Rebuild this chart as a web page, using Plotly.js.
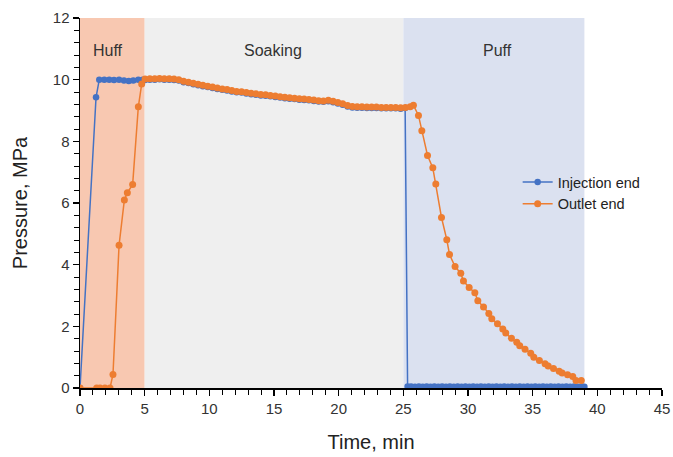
<!DOCTYPE html>
<html><head><meta charset="utf-8">
<script src="https://cdn.plot.ly/plotly-3.0.1.min.js"></script>
<style>html,body{margin:0;padding:0;background:#fff}#chart{width:673px;height:457px}</style>
</head><body><div id="chart"></div>
<script>
// Outlet end
const outletTime = [0, 1.29, 1.55, 1.93, 2.32, 2.55, 3.02, 3.43, 3.66, 4.07, 4.51, 4.77,
  5.03, 5.4, 5.78, 6.15, 6.52, 6.9, 7.27, 7.64, 8.01, 8.39, 8.76, 9.13, 9.5, 9.88, 10.25, 10.62,
  11.0, 11.37, 11.74, 12.11, 12.49, 12.86, 13.23, 13.6, 13.98, 14.35, 14.72, 15.1, 15.47, 15.84,
  16.21, 16.59, 16.96, 17.33, 17.7, 18.08, 18.45, 18.82, 19.2, 19.57, 19.94, 20.31, 20.69, 21.06,
  21.43, 21.8, 22.18, 22.55, 22.92, 23.3, 23.67, 24.04, 24.41, 24.79, 25.16, 25.53, 25.78,
  26.17, 26.43, 26.87, 27.28, 27.51, 27.95, 28.36, 28.57, 29.0, 29.44, 29.65, 30.09, 30.53,
  30.76, 31.2, 31.61, 31.84, 32.28, 32.69, 32.92, 33.36, 33.77, 34.0, 34.41, 34.85, 35.09,
  35.52, 35.96, 36.2, 36.61, 37.05, 37.28, 37.7, 38.1, 38.35, 38.76];
const outletPressure = [0, 0, 0, 0, 0, 0.44, 4.63, 6.1, 6.33, 6.6, 9.12, 9.86,
  10.02, 10.03, 10.03, 10.04, 10.03, 10.03, 10.02, 10.0, 9.95, 9.92, 9.88, 9.85, 9.82, 9.79, 9.76, 9.73,
  9.7, 9.68, 9.65, 9.62, 9.61, 9.58, 9.56, 9.54, 9.52, 9.51, 9.49, 9.47, 9.45, 9.43,
  9.41, 9.4, 9.38, 9.37, 9.36, 9.34, 9.32, 9.31, 9.33, 9.3, 9.26, 9.22, 9.16, 9.13,
  9.12, 9.12, 9.11, 9.11, 9.11, 9.1, 9.1, 9.1, 9.1, 9.09, 9.1, 9.12, 9.17,
  8.84, 8.34, 7.54, 7.14, 6.62, 5.53, 4.81, 4.33, 3.94, 3.72, 3.47, 3.26, 3.09,
  2.83, 2.63, 2.42, 2.25, 2.08, 1.91, 1.78, 1.61, 1.48, 1.37, 1.26, 1.13, 1.0,
  0.89, 0.79, 0.71, 0.63, 0.54, 0.49, 0.43, 0.37, 0.24, 0.24];

// Injection end
const injectionTime = [0, 1.24, 1.49, 1.88, 2.26, 2.63, 3.02, 3.4, 3.77, 4.12, 4.51, 4.85,
  5.03, 5.4, 5.78, 6.15, 6.52, 6.9, 7.27, 7.64, 8.01, 8.39, 8.76, 9.13, 9.5, 9.88, 10.25, 10.62,
  11.0, 11.37, 11.74, 12.11, 12.49, 12.86, 13.23, 13.6, 13.98, 14.35, 14.72, 15.1, 15.47, 15.84,
  16.21, 16.59, 16.96, 17.33, 17.7, 18.08, 18.45, 18.82, 19.2, 19.57, 19.94, 20.31, 20.69, 21.06,
  21.43, 21.8, 22.18, 22.55, 22.92, 23.3, 23.67, 24.04, 24.41, 24.79, 25.14, 25.33,
  25.6, 25.9, 26.2, 26.5, 26.8, 27.1, 27.4, 27.7, 28.0, 28.3, 28.6, 28.9, 29.2, 29.5, 29.8,
  30.1, 30.4, 30.7, 31.0, 31.3, 31.6, 31.9, 32.2, 32.5, 32.8, 33.1, 33.4, 33.7, 34.0, 34.3,
  34.6, 34.9, 35.2, 35.5, 35.8, 36.1, 36.4, 36.7, 37.0, 37.3, 37.6, 37.9, 38.2, 38.5, 38.8, 39.0];
const injectionPressure = [0, 9.43, 10.0, 10.0, 10.0, 9.99, 10.0, 9.97, 9.96, 9.97, 10.0, 10.0,
  9.99, 10.0, 10.0, 10.01, 10.0, 10.0, 9.99, 9.97, 9.92, 9.89, 9.85, 9.82, 9.79, 9.76, 9.73, 9.7,
  9.67, 9.65, 9.62, 9.59, 9.58, 9.55, 9.53, 9.51, 9.49, 9.48, 9.46, 9.44, 9.42, 9.4,
  9.38, 9.37, 9.35, 9.34, 9.33, 9.31, 9.29, 9.28, 9.3, 9.27, 9.23, 9.19, 9.13, 9.1,
  9.09, 9.09, 9.08, 9.08, 9.08, 9.07, 9.07, 9.07, 9.07, 9.06, 9.08, 0.05,
  0.05, 0.04, 0.05, 0.04, 0.05, 0.04, 0.05, 0.04, 0.05, 0.04, 0.05, 0.04, 0.05, 0.04, 0.05,
  0.04, 0.05, 0.04, 0.05, 0.04, 0.05, 0.04, 0.05, 0.04, 0.05, 0.04, 0.05, 0.04, 0.05, 0.04,
  0.05, 0.04, 0.05, 0.04, 0.05, 0.04, 0.05, 0.04, 0.05, 0.04, 0.05, 0.04, 0.05, 0.04, 0.05, 0.04];

// Stages
const stageNames = ['Huff', 'Soaking', 'Puff'];
const stageStart = [0, 5, 25];
const stageEnd = [5, 25, 39];
const stageLabelX = [2.2, 14.9, 32.3];
const stageLabelY = [10.95, 10.95, 10.95];
const stageColors = ['#f8c8b1', '#efefef', '#dbe1f0'];

const xTickVals = [0, 5, 10, 15, 20, 25, 30, 35, 40, 45];
const yTickVals = [0, 2, 4, 6, 8, 10, 12];

const traces = [
  {x: injectionTime, y: injectionPressure, name: 'Injection end', type: 'scatter', mode: 'lines+markers',
   line: {color: '#4472c4', width: 1.5}, marker: {color: '#4472c4', size: 6.5}},
  {x: outletTime, y: outletPressure, name: 'Outlet end', type: 'scatter', mode: 'lines+markers',
   line: {color: '#ed7d31', width: 1.5}, marker: {color: '#ed7d31', size: 7}}
];

const shapes = stageNames.map((n, i) => ({type: 'rect', xref: 'x', yref: 'y', x0: stageStart[i], x1: stageEnd[i],
  y0: 0, y1: 12, fillcolor: stageColors[i], line: {width: 0}, layer: 'below'}));
const annotations = stageNames.map((n, i) => ({x: stageLabelX[i], y: stageLabelY[i], xref: 'x', yref: 'y', text: n,
  showarrow: false, font: {size: 16, color: '#333'}}));

const axisFont = {family: 'Liberation Sans, Arial, sans-serif', size: 15, color: '#333'};
const layout = {
  width: 673, height: 457,
  margin: {l: 80, r: 11, t: 18, b: 69},
  paper_bgcolor: '#fff', plot_bgcolor: '#fff',
  font: {family: 'Liberation Sans, Arial, sans-serif'},
  showlegend: true,
  legend: {x: 0.752, y: 0.6, xanchor: 'left', yanchor: 'top', bgcolor: 'rgba(0,0,0,0)',
    font: {size: 14.5, color: '#222'}, tracegroupgap: 0},
  xaxis: {range: [0, 45], tickvals: xTickVals, ticktext: xTickVals.map(String), showgrid: false, zeroline: false,
    showline: true, linecolor: '#000', linewidth: 1.5, ticks: 'outside', ticklen: 6, tickwidth: 1.2, tickcolor: '#000',
    tickfont: axisFont, minor: {dtick: 1, tick0: 0, ticks: 'outside', ticklen: 5, tickwidth: 1, tickcolor: '#000'},
    title: {text: 'Time, min', font: {size: 20, color: '#222'}, standoff: 19}, fixedrange: true},
  yaxis: {range: [0, 12], tickvals: yTickVals, ticktext: yTickVals.map(String), showgrid: false, zeroline: false,
    showline: true, linecolor: '#000', linewidth: 1.5, ticks: 'outside', ticklen: 6, tickwidth: 1.2, tickcolor: '#000',
    tickfont: axisFont, minor: {dtick: 0.4, tick0: 0, ticks: 'outside', ticklen: 5, tickwidth: 1, tickcolor: '#000'},
    title: {text: 'Pressure, MPa', font: {size: 20, color: '#222'}, standoff: 20}, fixedrange: true},
  shapes: shapes,
  annotations: annotations
};
Plotly.newPlot('chart', traces, layout, {displayModeBar: false, staticPlot: true});
</script></body></html>
